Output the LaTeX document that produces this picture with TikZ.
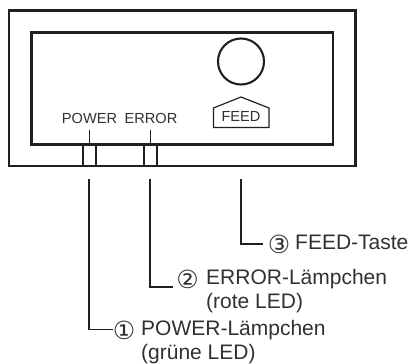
\documentclass[tikz,border=0pt]{standalone}
\usepackage{fontspec}
\setmainfont{Liberation Sans}
\newfontfamily\numfont{DejaVu Sans}
\usepackage{xcolor}
\definecolor{PanelInk}{RGB}{35,31,32}
\definecolor{PanelText}{RGB}{50,48,48}
\begin{document}
\begin{tikzpicture}[x=1pt,y=-1pt,line join=miter,
   thick line/.style={draw=PanelInk,line width=2.1pt},
   thin line/.style={draw=PanelInk,line width=1.2pt},
   small text/.style={text=PanelText,inner sep=0pt,anchor=base,font=\fontsize{14.6}{17}\selectfont},
   label text/.style={text=PanelText,inner sep=0pt,anchor=base west,align=left,font=\fontsize{21}{24.5}\selectfont},
   num text/.style={text=PanelText,inner sep=0pt,anchor=center,font=\fontsize{25}{24}\numfont}]
\useasboundingbox (0,0) rectangle (415,364);
% housing
\draw[thick line] (9,10.5) rectangle (355.5,166);
\draw[thick line] (31.5,32.5) rectangle (333,144.5);
\node[circle,thick line,minimum size=46pt,inner sep=0pt](knob) at (241,61.5) {};
% feed key
\draw[thin line] (213.5,127.5) -- (213.5,108) -- (241,97) -- (269,108) -- (269,127.5) -- cycle;
\node[small text](feed) at (241,121.5) {FEED};
% LEDs
\node[small text](power) at (89.5,123.5) {POWER};
\node[small text](error) at (151,123.5) {ERROR};
\foreach \x/\n in {89.5/A,150.5/B} {
   \draw[thin line] (\x-6.5,144.5) -- (\x-6.5,166) (\x+6.5,144.5) -- (\x+6.5,166);
   \coordinate (tick\n) at (\x,130);
   \draw[thin line] (tick\n) -- (\x,144.5);
}
% leaders
\foreach \x/\y/\e/\n in {89/329.5/113/A,150/287/172.5/B,241/244/262.5/C} {
   \coordinate (lead\n) at (\x,179);
   \coordinate (end\n) at (\e,\y);
   \draw[thin line] (lead\n) |- (end\n);
}
\node[num text](numC) at (279,244) {③};
\node[label text](textC) at (295,249) {FEED-Taste};
\node[num text](numB) at (187.5,279) {②};
\node[label text,anchor=north west](textB) at (206,268.7) {ERROR-Lämpchen\\(rote LED)};
\node[num text](numA) at (124,330) {①};
\node[label text,anchor=north west](textA) at (141,319.9) {POWER-Lämpchen\\(grüne LED)};
\end{tikzpicture}
\end{document}
